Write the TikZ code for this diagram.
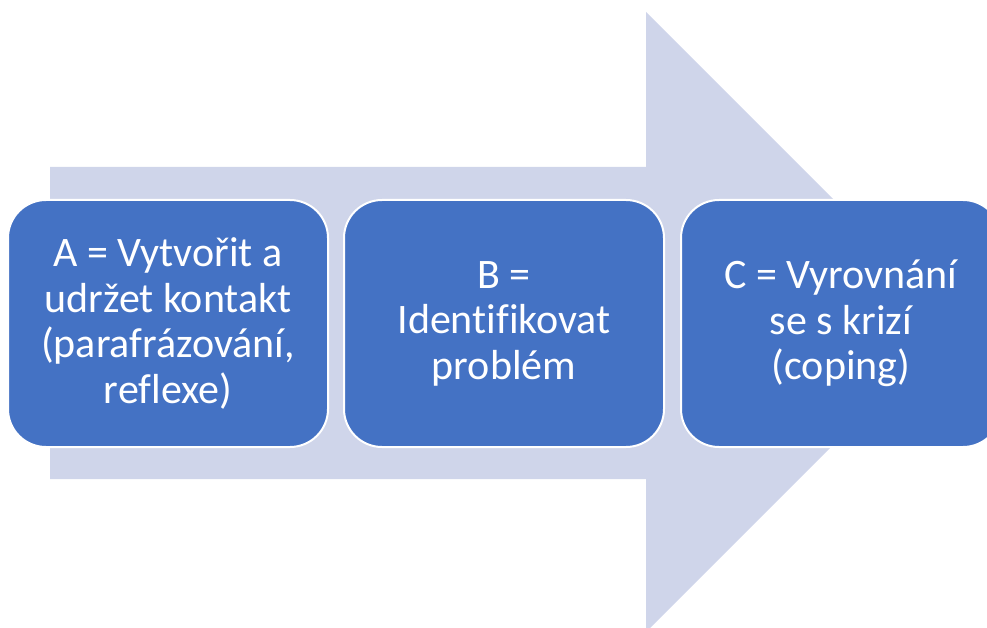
\documentclass[tikz,border=0pt]{standalone}
\usepackage{fontspec}
\setmainfont[Ligatures=NoCommon]{Carlito}
\definecolor{arrowfill}{HTML}{CFD5EA}
\definecolor{boxfill}{HTML}{4472C4}
\begin{document}
\begin{tikzpicture}[x=1pt,y=-1pt,
  stepbox/.style={draw=white, line width=2pt, fill=boxfill, rounded corners=38pt,
    minimum width=320pt, minimum height=247pt, inner sep=0pt, align=center,
    text=white, font=\fontsize{42}{45.5}\selectfont}]
\useasboundingbox (0,0) rectangle (987,628);
\clip (0,0) rectangle (987,628);
\fill[arrowfill] (50,167) -- (646,167) -- (646,12) -- (956,322) -- (646,632) -- (646,479) -- (50,479) -- cycle;
\node[stepbox] (a) at (168,323.5) {A = Vytvořit a\\udržet kontakt\\(parafrázování,\\reflexe)};
\node[stepbox] (b) at (504,323.5) {B =\\Identifikovat\\problém};
\node[stepbox] (c) at (841,323.5) {C = Vyrovnání\\se s krizí\\(coping)};
\end{tikzpicture}
\end{document}
